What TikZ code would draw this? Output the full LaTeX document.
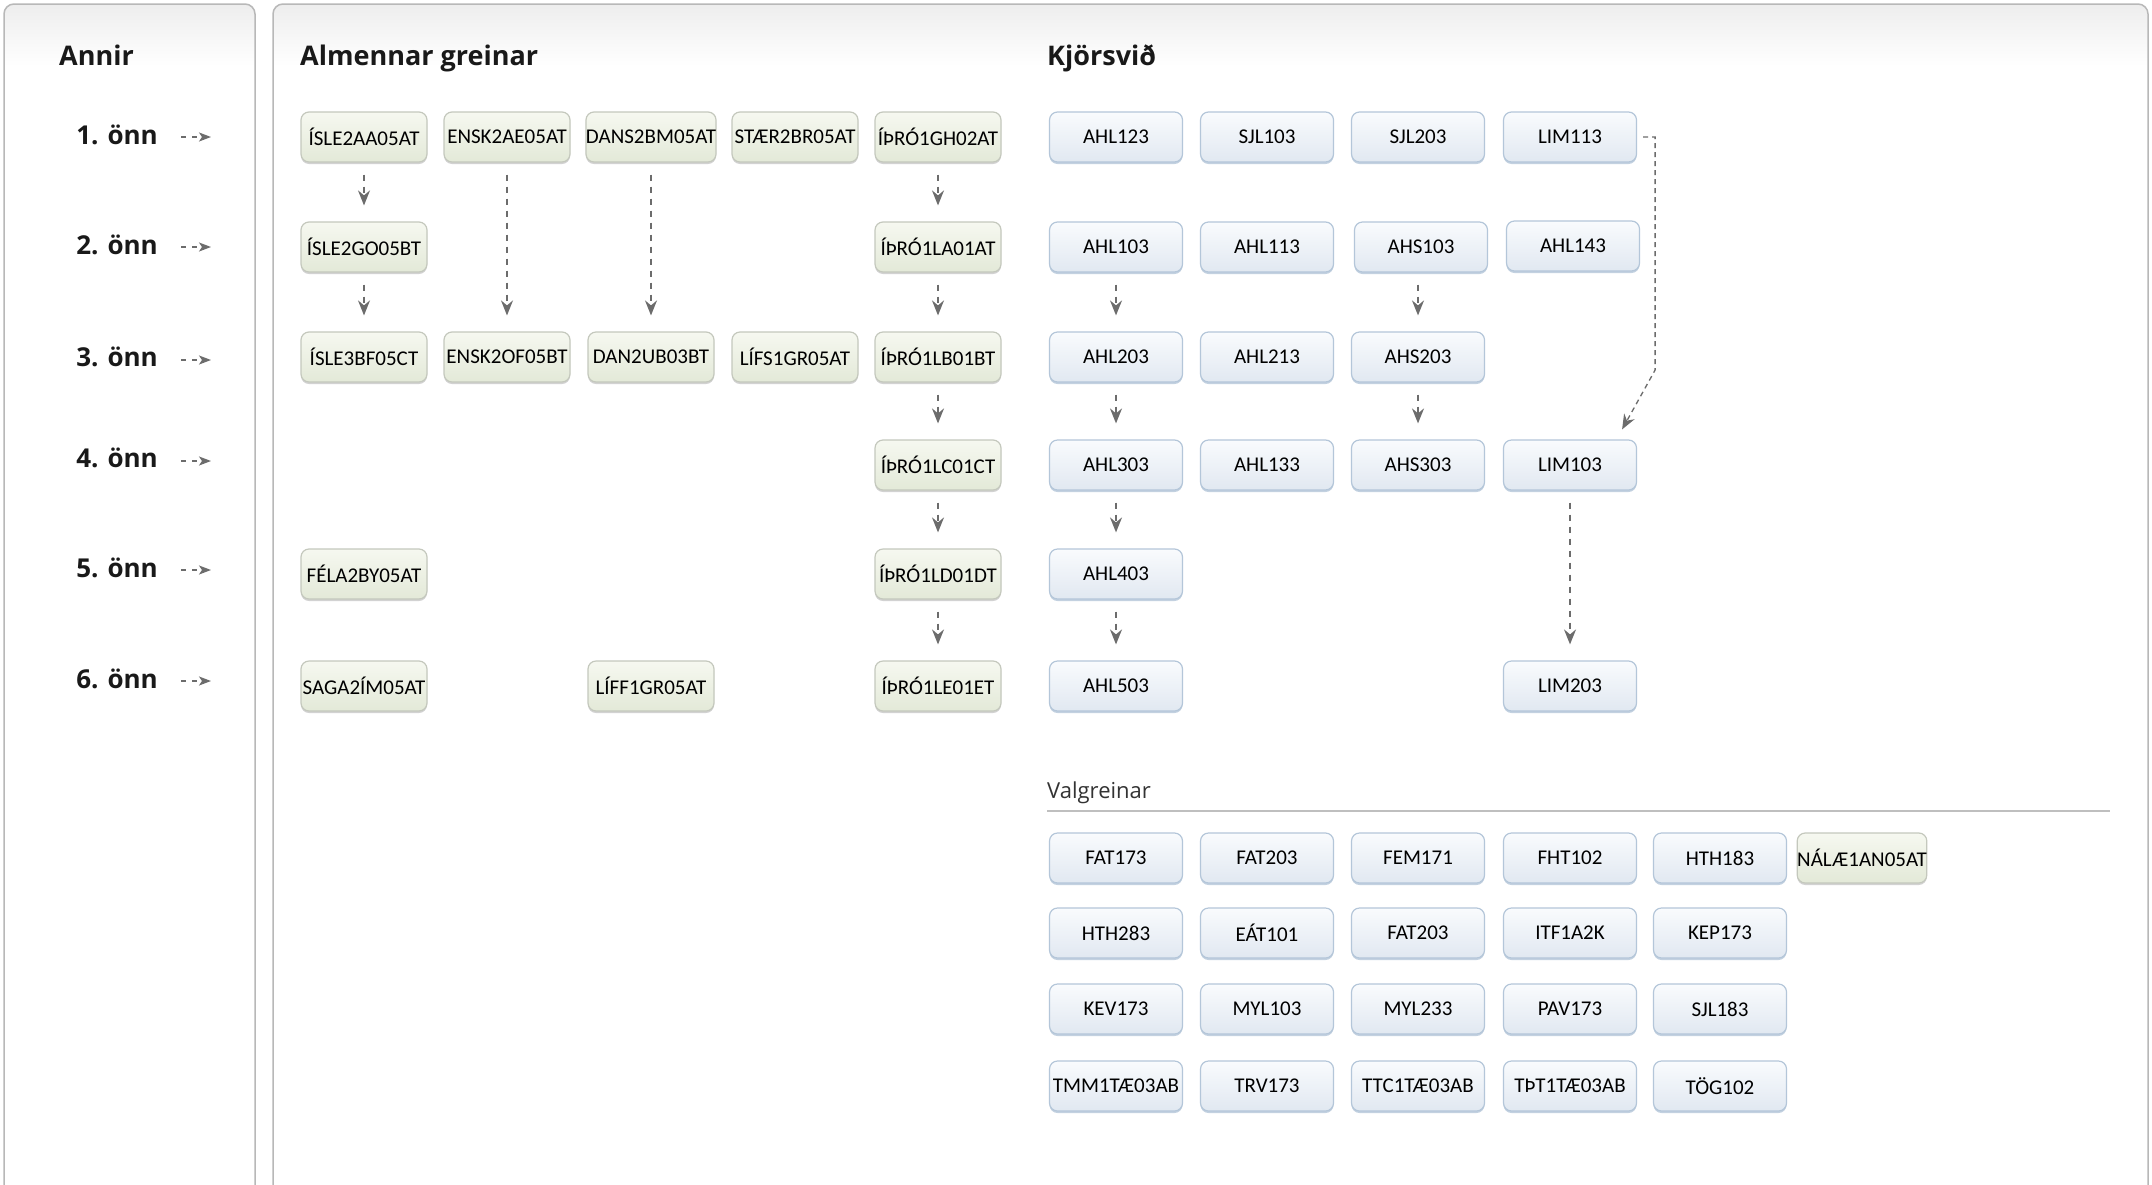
\documentclass[tikz,border=0pt]{standalone}
\usepackage{fontspec}
\setmainfont{Carlito}
\newfontfamily\hdfont{Open Sans}
\usetikzlibrary{arrows.meta, positioning, shadows, calc}
\definecolor{gtop}{HTML}{F6F8F0}
\definecolor{gbot}{HTML}{E3E9D8}
\definecolor{gbord}{HTML}{C4C8BD}
\definecolor{btop}{HTML}{F9FBFD}
\definecolor{bbot}{HTML}{E1E8F1}
\definecolor{bbord}{HTML}{B4C6D9}
\definecolor{pgray}{HTML}{B8B8B8}
\definecolor{arrgray}{HTML}{6C6C6C}

\begin{document}
\begin{tikzpicture}[x=1pt, y=-1pt,
  abox/.style={draw=gbord, line width=1.2pt, top color=gtop, bottom color=gbot, rounded corners=8pt, minimum width=126pt, minimum height=50pt, inner xsep=0pt, font=\fontsize{21}{25}\selectfont, drop shadow={shadow xshift=0pt, shadow yshift=-2pt, fill=gray!70, opacity=.5}},
  kbox/.style={draw=bbord, line width=1.2pt, top color=btop, bottom color=bbot, rounded corners=8pt, minimum width=133pt, minimum height=50pt, inner xsep=1pt, font=\fontsize{21}{25}\selectfont, drop shadow={shadow xshift=0pt, shadow yshift=-2pt, fill=bbord, opacity=.8}},
  hd/.style={anchor=base west, inner sep=0pt, text=black!90, font=\hdfont\bfseries\fontsize{27}{31}\selectfont},
  sem/.style={anchor=base east, inner sep=0pt, text=black!90, font=\hdfont\bfseries\fontsize{26}{30}\selectfont},
  nxt/.style={draw=arrgray, line width=1.6pt, dash pattern=on 6pt off 6pt, -{Stealth[length=15pt, width=12pt, inset=5pt]}, shorten <=12pt, shorten >=16pt},
  semarr/.style={draw=arrgray, line width=1.5pt, dash pattern=on 5pt off 6pt, -{Stealth[length=12pt, width=9pt, inset=3pt]}},
  panel/.style={draw=pgray, line width=1.5pt, rounded corners=10pt}
]
  \useasboundingbox (0,0) rectangle (2152,1184);
  \clip (0,0) rectangle (2152,1184);

  % panels
  \fill[white] (0,0) rectangle (2152,1184);
  \begin{scope}
    \clip[rounded corners=10pt] (4,4) rectangle (255,1200);
    \shade[top color=black!7, bottom color=white] (4,4) rectangle (255,66);
  \end{scope}
  \begin{scope}
    \clip[rounded corners=10pt] (273,4) rectangle (2148,1195);
    \shade[top color=black!7, bottom color=white] (273,4) rectangle (2148,66);
  \end{scope}
  \draw[panel] (4,4) rectangle (255,1200);
  \draw[panel] (273,4) rectangle (2148,1195);

  % headings
  \node[hd] (annir) at (59,65) {Annir};
  \node[hd] (almennar) at (300,65) {Almennar greinar};
  \node[hd] (kjorsvid) at (1047,65) {Kjörsvið};

  % semesters
  \node[sem] (s1) at (158,144) {1. önn};
  \node[sem] (s2) at (158,254) {2. önn};
  \node[sem] (s3) at (158,366) {3. önn};
  \node[sem] (s4) at (158,467) {4. önn};
  \node[sem] (s5) at (158,577) {5. önn};
  \node[sem] (s6) at (158,688) {6. önn};
  \coordinate (a1) at (211,137);
  \coordinate (a2) at (211,247);
  \coordinate (a3) at (211,360);
  \coordinate (a4) at (211,461);
  \coordinate (a5) at (211,570);
  \coordinate (a6) at (211,681);
  \draw[semarr] (s1.east |- a1) ++(23,0) -- (a1);
  \draw[semarr] (s2.east |- a2) ++(23,0) -- (a2);
  \draw[semarr] (s3.east |- a3) ++(23,0) -- (a3);
  \draw[semarr] (s4.east |- a4) ++(23,0) -- (a4);
  \draw[semarr] (s5.east |- a5) ++(23,0) -- (a5);
  \draw[semarr] (s6.east |- a6) ++(23,0) -- (a6);

  % almennar greinar
  \node[abox] (isle1) at (364,137) {ÍSLE2AA05AT};
  \node[abox] (ensk1) at (507,137) {ENSK2AE05AT};
  \node[abox] (dans1) at (651,137) {DANS2BM05AT};
  \node[abox] (staer) at (795,137) {STÆR2BR05AT};
  \node[abox] (ithr1) at (938,137) {ÍÞRÓ1GH02AT};
  \node[abox] (isle2) at (364,247) {ÍSLE2GO05BT};
  \node[abox] (ithr2) at (938,247) {ÍÞRÓ1LA01AT};
  \node[abox] (isle3) at (364,357) {ÍSLE3BF05CT};
  \node[abox] (ensk2) at (507,357) {ENSK2OF05BT};
  \node[abox] (dan2) at (651,357) {DAN2UB03BT};
  \node[abox] (lifs) at (795,357) {LÍFS1GR05AT};
  \node[abox] (ithr3) at (938,357) {ÍÞRÓ1LB01BT};
  \node[abox] (ithr4) at (938,465) {ÍÞRÓ1LC01CT};
  \node[abox] (fela) at (364,574) {FÉLA2BY05AT};
  \node[abox] (ithr5) at (938,574) {ÍÞRÓ1LD01DT};
  \node[abox] (saga) at (364,686) {SAGA2ÍM05AT};
  \node[abox] (liff) at (651,686) {LÍFF1GR05AT};
  \node[abox] (ithr6) at (938,686) {ÍÞRÓ1LE01ET};

  \draw[nxt] (isle1) -- (isle2);
  \draw[nxt] (isle2) -- (isle3);
  \draw[nxt] (ensk1) -- (ensk2);
  \draw[nxt] (dans1) -- (dan2);
  \draw[nxt] (ithr1) -- (ithr2);
  \draw[nxt] (ithr2) -- (ithr3);
  \draw[nxt] (ithr3) -- (ithr4);
  \draw[nxt] (ithr4) -- (ithr5);
  \draw[nxt] (ithr5) -- (ithr6);

  % kjorsvid
  \node[kbox] (ahl123) at (1116,137) {AHL123};
  \node[kbox] (sjl103) at (1267,137) {SJL103};
  \node[kbox] (sjl203) at (1418,137) {SJL203};
  \node[kbox] (lim113) at (1570,137) {LIM113};
  \node[kbox] (ahl103) at (1116,247) {AHL103};
  \node[kbox] (ahl113) at (1267,247) {AHL113};
  \node[kbox] (ahs103) at (1421,247) {AHS103};
  \node[kbox] (ahl143) at (1573,246) {AHL143};
  \node[kbox] (ahl203) at (1116,357) {AHL203};
  \node[kbox] (ahl213) at (1267,357) {AHL213};
  \node[kbox] (ahs203) at (1418,357) {AHS203};
  \node[kbox] (ahl303) at (1116,465) {AHL303};
  \node[kbox] (ahl133) at (1267,465) {AHL133};
  \node[kbox] (ahs303) at (1418,465) {AHS303};
  \node[kbox] (lim103) at (1570,465) {LIM103};
  \node[kbox] (ahl403) at (1116,574) {AHL403};
  \node[kbox] (ahl503) at (1116,686) {AHL503};
  \node[kbox] (lim203) at (1570,686) {LIM203};

  \draw[nxt] (ahl103) -- (ahl203);
  \draw[nxt] (ahl203) -- (ahl303);
  \draw[nxt] (ahl303) -- (ahl403);
  \draw[nxt] (ahl403) -- (ahl503);
  \draw[nxt] (ahs103.south -| ahs203) -- (ahs203);
  \draw[nxt] (ahs203) -- (ahs303);
  \draw[nxt] (lim103) -- (lim203);
  \draw[nxt, line width=1.3pt, dash pattern=on 5pt off 4pt, shorten <=6pt, shorten >=0pt] (lim113.east) -- ++(18,0) -- ++(0,233) -- ([xshift=-15pt, yshift=10pt]lim103.north east);

  % valgreinar
  \node[anchor=base west, inner sep=0pt, text=black!80, font=\hdfont\fontsize{22}{26}\selectfont] (valgr) at (1047,798) {Valgreinar};
  \draw[black!25, line width=1.5pt] (valgr.west |- 0,811) -- (2110,811);

  \node[kbox] (fat173) at (1116,858) {FAT173};
  \node[kbox] (fat203) at (1267,858) {FAT203};
  \node[kbox] (fem171) at (1418,858) {FEM171};
  \node[kbox] (fht102) at (1570,858) {FHT102};
  \node[kbox] (hth183) at (1720,858) {HTH183};
  \node[abox] (nalae) at (1862,858) {NÁLÆ1AN05AT};
  \node[kbox] (hth283) at (1116,933) {HTH283};
  \node[kbox] (eat101) at (1267,933) {EÁT101};
  \node[kbox] (fat203b) at (1418,933) {FAT203};
  \node[kbox] (itf1a2k) at (1570,933) {ITF1A2K};
  \node[kbox] (kep173) at (1720,933) {KEP173};
  \node[kbox] (kev173) at (1116,1009) {KEV173};
  \node[kbox] (myl103) at (1267,1009) {MYL103};
  \node[kbox] (myl233) at (1418,1009) {MYL233};
  \node[kbox] (pav173) at (1570,1009) {PAV173};
  \node[kbox] (sjl183) at (1720,1009) {SJL183};
  \node[kbox] (tmm) at (1116,1086) {TMM1TÆ03AB};
  \node[kbox] (trv173) at (1267,1086) {TRV173};
  \node[kbox] (ttc) at (1418,1086) {TTC1TÆ03AB};
  \node[kbox] (tpt) at (1570,1086) {TÞT1TÆ03AB};
  \node[kbox] (tog102) at (1720,1086) {TÖG102};
\end{tikzpicture}
\end{document}
